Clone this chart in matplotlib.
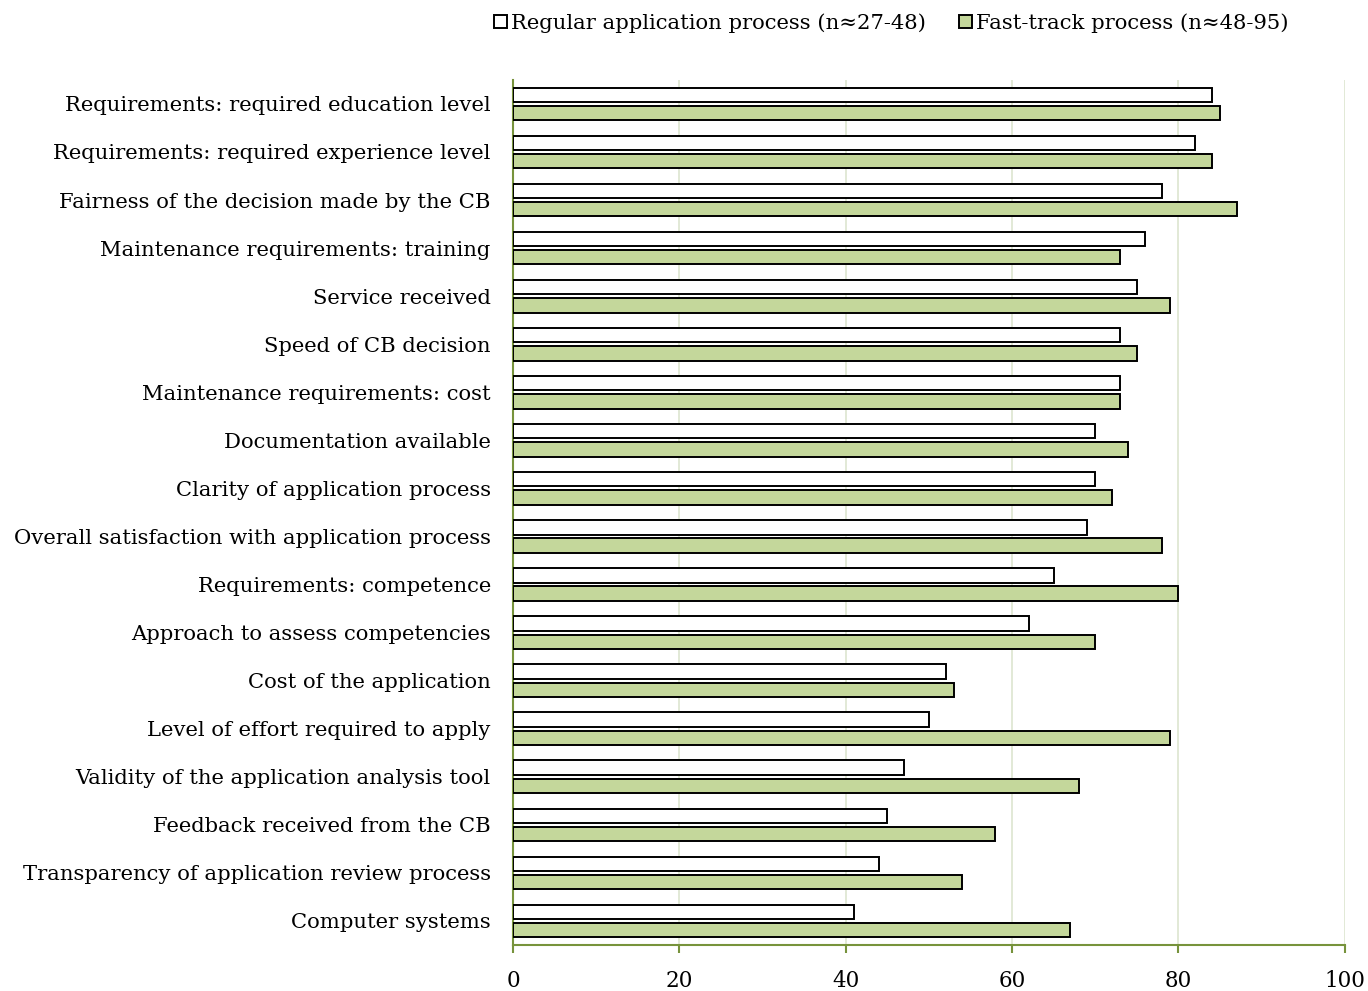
import numpy as np
import matplotlib.pyplot as plt

plt.rcParams['font.family'] = ['DejaVu Serif']

# satisfaction items, listed top to bottom
items = [
    'Requirements: required education level',
    'Requirements: required experience level',
    'Fairness of the decision made by the CB',
    'Maintenance requirements: training',
    'Service received',
    'Speed of CB decision',
    'Maintenance requirements: cost',
    'Documentation available',
    'Clarity of application process',
    'Overall satisfaction with application process',
    'Requirements: competence',
    'Approach to assess competencies',
    'Cost of the application',
    'Level of effort required to apply',
    'Validity of the application analysis tool',
    'Feedback received from the CB',
    'Transparency of application review process',
    'Computer systems',
]
regular = [84, 82, 78, 76, 75, 73, 73, 70, 70, 69, 65, 62, 52, 50, 47, 45, 44, 41]
fast = [85, 84, 87, 73, 79, 75, 73, 74, 72, 78, 80, 70, 53, 79, 68, 58, 54, 67]

fig = plt.figure(figsize=(13.68, 9.91), dpi=100)
ax = fig.add_axes([0.375, 0.0464, 0.608, 0.873])

y = np.arange(len(items))
ax.barh(y - 0.19, regular, height=0.3, color='white', edgecolor='black',
        linewidth=1.4, label='Regular application process (n\u224827-48)', zorder=3)
ax.barh(y + 0.19, fast, height=0.3, color='#C4D79B', edgecolor='black',
        linewidth=1.4, label='Fast-track process (n\u224848-95)', zorder=3)

ax.set_ylim(len(items) - 0.5, -0.5)
ax.set_xlim(0, 100)
ax.set_xticks(range(0, 101, 20))
ax.set_yticks(y)
ax.set_yticklabels(items, fontsize=15.2)
ax.tick_params(axis='y', length=0, pad=16)
ax.tick_params(axis='x', labelsize=15.5, length=6, width=1.5, color='#77933C',
               direction='out', pad=12)
ax.grid(axis='x', color='#DDE5CF', linewidth=1.2, zorder=0)

for side in ['top', 'right']:
    ax.spines[side].set_visible(False)
for side in ['left', 'bottom']:
    ax.spines[side].set_color('#77933C')
    ax.spines[side].set_linewidth(1.5)

fig.legend(loc='upper right', bbox_to_anchor=(0.956, 1.006), ncol=2, frameon=False,
           fontsize=15.2, handlelength=0.6, handleheight=0.6, handletextpad=0.2,
           columnspacing=1.6)

fig.savefig('out.png', dpi=100)
